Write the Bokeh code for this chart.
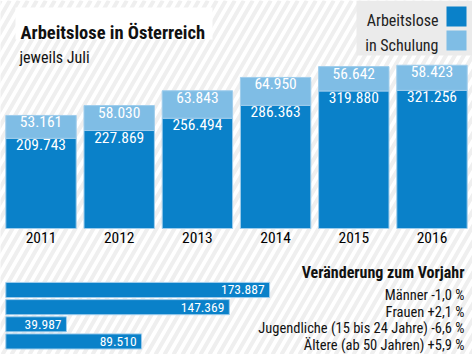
from bokeh.plotting import figure
from bokeh.models import Range1d, ColumnDataSource
from bokeh.core.properties import value
from bokeh.embed import file_html
from bokeh.resources import INLINE

# ---------------- data ----------------
years = ["2011", "2012", "2013", "2014", "2015", "2016"]
arbeitslose = [209743, 227869, 256494, 286363, 319880, 321256]
schulung = [53161, 58030, 63843, 64950, 56642, 58423]

groups = ["Männer -1,0 %", "Frauen +2,1 %", "Jugendliche (15 bis 24 Jahre) -6,6 %", "Ältere (ab 50 Jahren) +5,9 %"]
group_values = [173887, 147369, 39987, 89510]

title = "Arbeitslose in Österreich"
subtitle = "jeweils Juli"
legend_labels = ["Arbeitslose", "in Schulung"]
change_title = "Veränderung zum Vorjahr"

def fmt(v):
    return f"{v:,}".replace(",", ".")

# ---------------- style ----------------
DARK = "#0a81c9"
LIGHT = "#7fbde5"
EDGE = "#9fcdec"
FONT = "Roboto Condensed, Roboto"
W, H = 472, 354

p = figure(width=W, height=H, output_backend="svg", toolbar_location=None,
           x_range=Range1d(-0.518, 5.518), y_range=Range1d(-293023, 530233),
           x_axis_type=None, y_axis_type=None, min_border=0,
           outline_line_color=None, background_fill_color="white",
           border_fill_color="white")
p.xgrid.visible = False
p.ygrid.visible = False

p.extra_x_ranges = {"px": Range1d(0, W), "hx": Range1d(-3494, 307647)}
p.extra_y_ranges = {"px": Range1d(H, 0), "hy": Range1d(3.761, -16.88)}

# background stripes (decoration)
period, slope = 9, 0.58
xs, ys = [], []
x0 = -int(H * slope) - period
while x0 < W + period:
    xs.append([x0, x0 + H * slope])
    ys.append([H, 0])
    x0 += period
p.multi_line(xs, ys, line_color="#efefef", line_width=4,
             x_range_name="px", y_range_name="px")

# title box
p.quad(left=[15], right=[212], top=[7], bottom=[39], fill_color="white",
       line_color=None, x_range_name="px", y_range_name="px")
p.text(x=[20], y=[32], text=[title], text_font=value(FONT), text_font_style="bold",
       text_font_size="18.5px", text_color="#111111", text_baseline="alphabetic",
       x_range_name="px", y_range_name="px")
p.text(x=[19], y=[57], text=[subtitle], text_font=value(FONT),
       text_font_size="16px", text_color="#111111", text_baseline="alphabetic",
       x_range_name="px", y_range_name="px")

# legend box
p.quad(left=[356], right=[472], top=[0], bottom=[55], fill_color="#ebebeb",
       line_color=None, x_range_name="px", y_range_name="px")
p.quad(left=[446, 446], right=[466, 466], top=[6, 30], bottom=[26, 50],
       fill_color=[DARK, LIGHT], line_color=None, x_range_name="px", y_range_name="px")
p.text(x=[438, 438], y=[20, 45], text=legend_labels, text_font=value(FONT),
       text_font_size="16px", text_color="#222222", text_align="right",
       text_baseline="alphabetic", x_range_name="px", y_range_name="px")

# ---------------- stacked bars ----------------
idx = list(range(len(years)))
totals = [a + s for a, s in zip(arbeitslose, schulung)]
src = ColumnDataSource(dict(
    x=idx, a=arbeitslose, t=totals, zero=[0] * len(idx),
    la=[fmt(v) for v in arbeitslose], ls=[fmt(v) for v in schulung], yr=years))

bw = 0.9
p.vbar(x="x", bottom="zero", top="a", width=bw, source=src,
       fill_color=DARK, line_color=EDGE, line_width=1)
p.vbar(x="x", bottom="a", top="t", width=bw, source=src,
       fill_color=LIGHT, line_color=EDGE, line_width=1)
p.text(x="x", y="a", text="la", source=src, text_font=value(FONT),
       text_font_size="15.5px", text_color="white", text_align="center",
       text_baseline="top", y_offset=1)
p.text(x="x", y="t", text="ls", source=src, text_font=value(FONT),
       text_font_size="15.5px", text_color="white", text_align="center",
       text_baseline="top", y_offset=1)
p.text(x="x", y="zero", text="yr", source=src, text_font=value(FONT),
       text_font_size="15.5px", text_color="#000000", text_align="center",
       text_baseline="top", y_offset=3)

# ---------------- horizontal bars ----------------
rows = list(range(len(groups)))
hsrc = ColumnDataSource(dict(y=rows, v=group_values, zero=[0] * len(rows),
                             lab=[fmt(v) for v in group_values], g=groups))
p.hbar(y="y", left="zero", right="v", height=0.88, source=hsrc,
       fill_color=DARK, line_color=EDGE, line_width=1,
       x_range_name="hx", y_range_name="hy")
p.text(x="v", y="y", text="lab", source=hsrc, text_font=value(FONT),
       text_font_size="13.5px", text_color="white", text_align="right",
       text_baseline="middle", x_offset=-5,
       x_range_name="hx", y_range_name="hy")

p.text(x=[464], y=[272], text=[change_title], text_font=value(FONT),
       text_font_style="bold", text_font_size="16px", text_color="#111111",
       text_align="right", text_baseline="alphabetic",
       x_range_name="px", y_range_name="px")
p.text(x=[464] * len(groups), y=[295, 312, 328, 345], text=groups,
       text_font=value(FONT), text_font_size="14.5px", text_color="#111111",
       text_align="right", text_baseline="alphabetic",
       x_range_name="px", y_range_name="px")

open("out.html", "w").write(file_html(p, INLINE))
